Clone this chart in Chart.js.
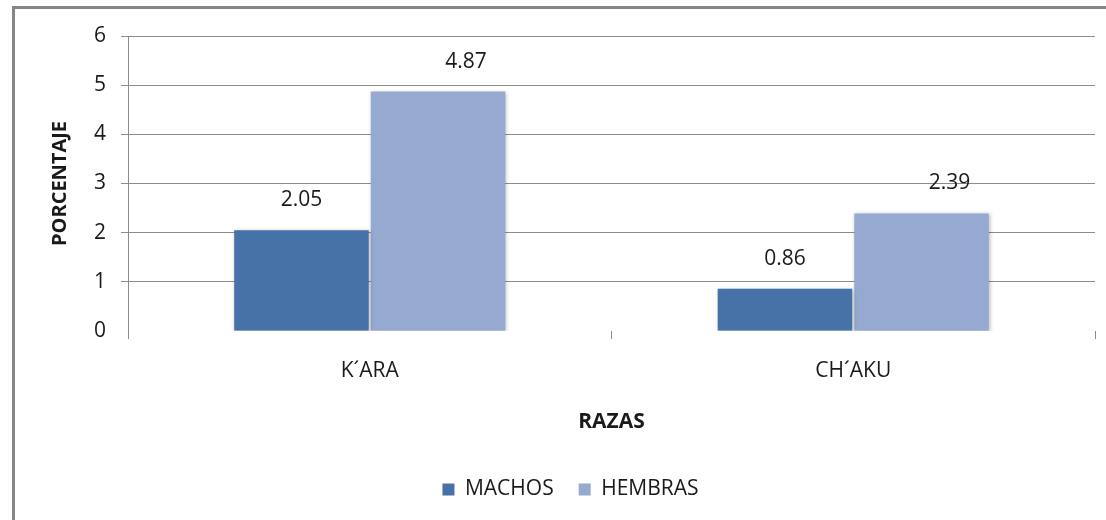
<!DOCTYPE html>
<html>
<head>
<meta charset="utf-8">
<script src="https://cdn.jsdelivr.net/npm/chart.js@4.4.0/dist/chart.umd.min.js"></script>
<style>
  html, body { margin: 0; padding: 0; background: #fff; overflow: hidden; }
  #frame { position: absolute; left: 12px; top: 6px; width: 1200px; height: 600px; border: 3px solid #868686; }
  #wrap { position: absolute; left: 0; top: 0; width: 1106px; height: 520px; }
</style>
</head>
<body>
<div id="frame"></div>
<div id="wrap"><canvas id="myChart"></canvas></div>
<script>
const categories = ['K\u00B4ARA', 'CH\u00B4AKU'];
const machos = [2.05, 0.86];
const hembras = [4.87, 2.39];
const yTicks = [0, 1, 2, 3, 4, 5, 6];

const FONT = '"Open Sans", "Liberation Sans", sans-serif';
const TEXT = '#1a1a1a';
const GRID = '#8c8c8c';

// soft shadow under the bars, like the original
const barShadow = {
    id: 'barShadow',
    beforeDatasetsDraw(chart) {
        const ctx = chart.ctx;
        ctx.save();
        ctx.shadowColor = 'rgba(0,0,0,0.28)';
        ctx.shadowBlur = 4;
        ctx.shadowOffsetX = 1;
        ctx.shadowOffsetY = 1;
    },
    afterDatasetsDraw(chart) {
        chart.ctx.restore();
    }
};

// value labels above the bars
const valueLabels = {
    id: 'valueLabels',
    afterDatasetsDraw(chart) {
        const ctx = chart.ctx;
        ctx.save();
        ctx.font = '21px ' + FONT;
        ctx.fillStyle = TEXT;
        ctx.textAlign = 'center';
        ctx.textBaseline = 'middle';
        chart.data.datasets.forEach((ds, i) => {
            const dx = i === 1 ? 28 : 0;
            chart.getDatasetMeta(i).data.forEach((bar, j) => {
                ctx.fillText(ds.data[j].toFixed(2), bar.x + dx, bar.y - 30);
            });
        });
        ctx.restore();
    }
};

var ctx = document.getElementById('myChart').getContext('2d');
var myChart = new Chart(ctx, {
    type: 'bar',
    plugins: [barShadow, valueLabels],
    data: {
        labels: categories,
        datasets: [{
            label: 'MACHOS',
            data: machos,
            backgroundColor: '#4672a7',
            borderWidth: 0
        }, {
            label: 'HEMBRAS',
            data: hembras,
            backgroundColor: '#95a9d1',
            borderWidth: 0
        }]
    },
    options: {
        responsive: true,
        maintainAspectRatio: false,
        animation: false,
        datasets: {
            bar: { categoryPercentage: 0.565, barPercentage: 0.985 }
        },
        layout: { padding: { top: 36, right: 11, left: 46, bottom: 10 } },
        plugins: {
            tooltip: { enabled: false },
            legend: {
                position: 'bottom',
                labels: {
                    boxWidth: 12,
                    boxHeight: 12,
                    padding: 25,
                    color: TEXT,
                    font: { family: FONT, size: 21 }
                }
            }
        },
        scales: {
            x: {
                afterFit(scale) { scale.height = 123; },
                border: { display: false },
                grid: {
                    offset: true,
                    drawOnChartArea: false,
                    drawTicks: true,
                    tickLength: 8,
                    color: GRID
                },
                ticks: {
                    padding: 19,
                    color: TEXT,
                    font: { family: FONT, size: 21 }
                },
                title: {
                    display: true,
                    text: 'RAZAS',
                    color: TEXT,
                    padding: { top: 0, bottom: 19 },
                    font: { family: FONT, size: 21, weight: 'bold' }
                }
            },
            y: {
                min: 0,
                max: 6,
                afterFit(scale) { scale.width = 82; },
                afterBuildTicks(scale) { scale.ticks = yTicks.map(v => ({ value: v })); },
                border: { display: true, color: GRID },
                grid: {
                    color: c => (c.tick && c.tick.value === 0) ? 'rgba(0,0,0,0)' : GRID,
                    tickLength: 7
                },
                ticks: {
                    padding: 15,
                    color: TEXT,
                    font: { family: FONT, size: 21 }
                },
                title: {
                    display: true,
                    text: 'PORCENTAJE',
                    color: TEXT,
                    padding: { top: 2, bottom: 0 },
                    font: { family: FONT, size: 20, weight: 'bold' }
                }
            }
        }
    }
});
</script>
</body>
</html>
